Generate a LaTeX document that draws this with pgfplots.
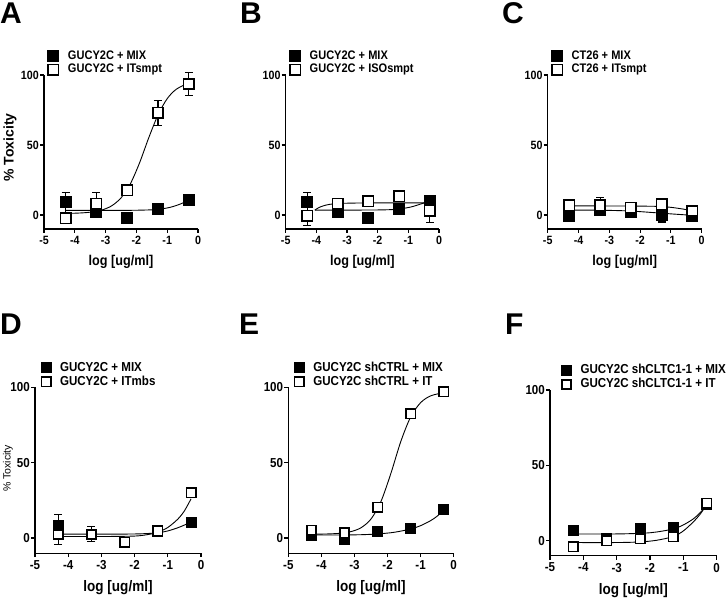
\documentclass[border=0pt]{standalone}
\usepackage{fontspec}
\setmainfont{Liberation Sans}
\newfontfamily\cond{Liberation Sans}[FakeStretch=0.89]
\usepackage{pgfplots}
\pgfplotsset{compat=1.18}
\usepackage{pgfplotstable}

\pgfplotsset{
  gpbase/.style={
    scale only axis, clip=false,
    xmin=-5, xmax=0, ymin=-10, ymax=100,
    axis x line*=bottom, axis y line*=left,
    axis line style={line width=1.1pt},
    xtick={-5,-4,-3,-2,-1,0}, xticklabels={-5,-4,-3,-2,-1,0},
    ytick={0,50,100}, yticklabels={0,50,100},
    tick align=outside, major tick length=4pt,
    major tick style={line width=1.1pt, black},
    xlabel={log [ug/ml]},
    xticklabel style={inner sep=1pt, yshift=-2pt},
    yticklabel style={inner sep=1pt},
    legend cell align=left,
    legend image code/.code={\draw[#1] plot coordinates {(0pt,0pt)};},
  },
  toprow/.style={gpbase, width=154pt, height=154pt,
    tick label style={font=\cond\bfseries\fontsize{12}{12}\selectfont},
    xlabel style={font=\cond\bfseries\fontsize{14.2}{14}\selectfont, at={(axis description cs:0.5,0)}, anchor=center, yshift=-33pt},
    legend style={draw=none, fill=none, at={(axis description cs:0,1)}, anchor=south west,
      xshift=4pt, inner sep=0pt, outer sep=0pt, row sep=2.5pt,
      font=\cond\bfseries\fontsize{12.4}{12}\selectfont,
      nodes={inner sep=0pt, text height=8.5pt, text depth=2pt},
      /tikz/every odd column/.style={column sep=9pt}},
  },
  botrow/.style={gpbase, width=166pt, height=165.8pt,
    tick label style={font=\cond\bfseries\fontsize{13}{13}\selectfont},
    xlabel style={font=\cond\bfseries\fontsize{15.2}{15}\selectfont, at={(axis description cs:0.5,0)}, anchor=center, yshift=-35pt},
    legend style={draw=none, fill=none, at={(axis description cs:0,1)}, anchor=south west,
      xshift=6pt, inner sep=0pt, outer sep=0pt, row sep=3pt,
      font=\cond\bfseries\fontsize{13}{13}\selectfont,
      nodes={inner sep=0pt, text height=9pt, text depth=2pt},
      /tikz/every odd column/.style={column sep=9pt}},
  },
  fsqT/.style={only marks, mark=square*, mark size=5.5pt,
    mark options={fill=black, draw=black, line width=1pt, solid},
    error bars/.cd, y dir=both, y explicit,
    error bar style={line width=1.1pt, black},
    error mark options={rotate=90, mark size=4pt, line width=1.1pt, black}},
  osqT/.style={only marks, mark=square*, mark size=5.2pt,
    mark options={fill=white, draw=black, line width=1.6pt, solid},
    error bars/.cd, y dir=both, y explicit,
    error bar style={line width=1.1pt, black},
    error mark options={rotate=90, mark size=4pt, line width=1.1pt, black}},
  fsqB/.style={only marks, mark=square*, mark size=5pt,
    mark options={fill=black, draw=black, line width=1pt, solid},
    error bars/.cd, y dir=both, y explicit,
    error bar style={line width=1.1pt, black},
    error mark options={rotate=90, mark size=4pt, line width=1.1pt, black}},
  osqB/.style={only marks, mark=square*, mark size=4.7pt,
    mark options={fill=white, draw=black, line width=1.6pt, solid},
    error bars/.cd, y dir=both, y explicit,
    error bar style={line width=1.1pt, black},
    error mark options={rotate=90, mark size=4pt, line width=1.1pt, black}},
  fit/.style={no marks, smooth, black, line width=0.9pt, forget plot},
}

% ---------- data: x y err ----------
\pgfplotstableread{
x y e
-4.3 9.0 7.0
-3.3 2.0 0
-2.3 -2.0 0
-1.3 4.0 0
-0.3 10.5 0
}\Amix
\pgfplotstableread{
x y e
-4.3 -2.4 0
-3.3 8.0 8.0
-2.3 17.6 0
-1.3 73.0 9.0
-0.3 93.6 8.5
}\Ait
\pgfplotstableread{
x y e
-4.3 9.3 7.0
-3.3 2.1 0
-2.3 -2.4 0
-1.3 4.3 0
-0.3 10.2 0
}\Bmix
\pgfplotstableread{
x y e
-4.3 -0.5 7.0
-3.3 8.1 0
-2.3 9.8 0
-1.3 13.3 0
-0.3 3.1 8.2
}\Biso
\pgfplotstableread{
x y e
-4.3 -1.0 0
-3.3 3.3 0
-2.3 2.0 0
-1.3 0.2 5.2
-0.3 -1.0 0
}\Cmix
\pgfplotstableread{
x y e
-4.3 6.9 0
-3.3 6.9 5.8
-2.3 5.2 0
-1.3 7.6 0
-0.3 2.9 0
}\Cit
\pgfplotstableread{
x y e
-4.3 8.2 7.7
-3.3 2.4 0
-2.3 -2.9 0
-1.3 4.2 0
-0.3 10.6 0
}\Dmix
\pgfplotstableread{
x y e
-4.3 2.4 6.6
-3.3 2.4 5.0
-2.3 -2.9 0
-1.3 4.9 0
-0.3 30.1 0
}\Dit
\pgfplotstableread{
x y e
-4.3 1.8 0
-3.3 -0.9 0
-2.3 4.4 0
-1.3 6.0 0
-0.3 19.0 0
}\Emix
\pgfplotstableread{
x y e
-4.3 5.3 0
-3.3 3.5 0
-2.3 20.4 0
-1.3 82.5 0
-0.3 97.1 0
}\Eit
\pgfplotstableread{
x y e
-4.3 7.1 0
-3.3 1.5 0
-2.3 8.2 0
-1.3 8.6 0
-0.3 24.3 3.5
}\Fmix
\pgfplotstableread{
x y e
-4.3 -4.0 0
-3.3 0.0 0
-2.3 1.3 0
-1.3 2.7 0
-0.3 24.8 0
}\Fit

\begin{document}
\begin{tikzpicture}
\useasboundingbox (0,0) rectangle (726pt,599pt);

\tikzset{plab/.style={anchor=base west, inner sep=0pt, font=\bfseries\fontsize{30}{30}\selectfont}}
\node[plab] at (0pt,575pt) {A};
\node[plab] at (240pt,575pt) {B};
\node[plab] at (502pt,575pt) {C};
\node[plab] at (0pt,264pt) {D};
\node[plab] at (239pt,264pt) {E};
\node[plab] at (505pt,264pt) {F};

% ---------------- A ----------------
\begin{axis}[toprow, at={(44pt,370pt)}, anchor=south west,
  ylabel={\% Toxicity},
  ylabel style={font=\bfseries\fontsize{14}{14}\selectfont, at={(axis description cs:-0.221,0.53)}, anchor=center}]
\addplot[fit] coordinates {(-4.3,3.3) (-3.5,3.3) (-2.5,3.3) (-2,3.4) (-1.5,3.7) (-1.2,4.3) (-0.9,5.5) (-0.6,7.6) (-0.3,10.5)};
\addplot[fit] coordinates {(-4.3,1.13) (-4.0,1.28) (-3.7,1.6) (-3.4,2.28) (-3.1,3.69) (-2.8,6.58) (-2.5,12.2) (-2.2,22.1) (-1.9,37.1) (-1.6,55.1) (-1.3,71.4) (-1.0,83.1) (-0.7,89.9) (-0.3,94.3)};
\addplot[fsqT] table[x=x, y=y, y error=e] {\Amix};
\addlegendentry{GUCY2C + MIX}
\addplot[osqT] table[x=x, y=y, y error=e] {\Ait};
\addlegendentry{GUCY2C + ITsmpt}
\end{axis}

% ---------------- B ----------------
\begin{axis}[toprow, at={(285.7pt,370pt)}, anchor=south west, width=153.3pt]
\addplot[fit] coordinates {(-4.05,3.5) (-3,3.5) (-2,3.6) (-1.5,3.9) (-1.2,4.6) (-0.9,5.8) (-0.6,7.8) (-0.3,10)};
\addplot[fit] coordinates {(-4.05,3.5) (-3.9,5.5) (-3.7,7) (-3.5,7.8) (-3.2,8.3) (-2.5,8.6) (-1.5,8.7) (-0.3,8.7)};
\addplot[fsqT] table[x=x, y=y, y error=e] {\Bmix};
\addlegendentry{GUCY2C + MIX}
\addplot[osqT] table[x=x, y=y, y error=e] {\Biso};
\addlegendentry{GUCY2C + ISOsmpt}
\end{axis}

% ---------------- C ----------------
\begin{axis}[toprow, at={(547.7pt,370pt)}, anchor=south west]
\addplot[fit] coordinates {(-4.3,3.5) (-3.3,3.4) (-2.5,3.0) (-2,2.4) (-1.5,1.6) (-1,0.8) (-0.6,0.2) (-0.3,-0.2)};
\addplot[fit] coordinates {(-4.3,6.5) (-2.5,6.4) (-1.5,6.2) (-1.2,5.9) (-0.9,5.2) (-0.6,4.2) (-0.3,3.0)};
\addplot[fsqT] table[x=x, y=y, y error=e] {\Cmix};
\addlegendentry{CT26 + MIX}
\addplot[osqT] table[x=x, y=y, y error=e] {\Cit};
\addlegendentry{CT26 + ITsmpt}
\end{axis}

% ---------------- D ----------------
\begin{axis}[botrow, at={(35pt,45.9pt)}, anchor=south west,
  ylabel={\% Toxicity},
  ylabel style={font=\fontsize{10.5}{10.5}\selectfont, at={(axis description cs:-0.163,0.51)}, anchor=center}]
\addplot[fit] coordinates {(-4.3,2.6) (-2.5,2.6) (-1.8,2.8) (-1.3,3.5) (-1,4.7) (-0.7,6.8) (-0.5,8.6) (-0.3,10.6)};
\addplot[fit] coordinates {(-4.3,1) (-3,1) (-2,1.3) (-1.6,2.3) (-1.3,3.8) (-1,7) (-0.7,12.5) (-0.5,18) (-0.3,26)};
\addplot[fsqB] table[x=x, y=y, y error=e] {\Dmix};
\addlegendentry{GUCY2C + MIX}
\addplot[osqB] table[x=x, y=y, y error=e] {\Dit};
\addlegendentry{GUCY2C + ITmbs}
\end{axis}

% ---------------- E ----------------
\begin{axis}[botrow, at={(288.3pt,45.9pt)}, anchor=south west, width=165.4pt]
\addplot[fit] coordinates {(-4.3,2) (-3.5,2) (-2.8,2.2) (-2.3,2.7) (-1.8,3.8) (-1.3,6) (-1,8.2) (-0.7,11.5) (-0.5,14.5) (-0.3,18.5)};
\addplot[fit] coordinates {(-4.3,2.55) (-4.0,2.62) (-3.7,2.79) (-3.4,3.23) (-3.1,4.29) (-2.8,6.84) (-2.5,12.6) (-2.2,24.2) (-1.9,42.8) (-1.6,64.0) (-1.3,80.4) (-1.0,89.8) (-0.7,94.3) (-0.3,96.5)};
\addplot[fsqB] table[x=x, y=y, y error=e] {\Emix};
\addlegendentry{GUCY2C shCTRL + MIX}
\addplot[osqB] table[x=x, y=y, y error=e] {\Eit};
\addlegendentry{GUCY2C shCTRL + IT}
\end{axis}

% ---------------- F ----------------
\begin{axis}[botrow, at={(550pt,43.2pt)}, anchor=south west, width=166.7pt, legend style={xshift=5.5pt}]
\addplot[fit] coordinates {(-4.3,4.5) (-3,4.5) (-2.2,5) (-1.8,5.8) (-1.3,7.8) (-1,10.5) (-0.7,14.5) (-0.5,18.5) (-0.3,23.5)};
\addplot[fit] coordinates {(-4.3,-1.2) (-3,-1.2) (-2.3,-0.8) (-1.8,0.3) (-1.3,2.8) (-1,6.5) (-0.7,12.5) (-0.5,17.5) (-0.3,24)};
\addplot[fsqB] table[x=x, y=y, y error=e] {\Fmix};
\addlegendentry{GUCY2C shCLTC1-1 + MIX}
\addplot[osqB] table[x=x, y=y, y error=e] {\Fit};
\addlegendentry{GUCY2C shCLTC1-1 + IT}
\end{axis}
\end{tikzpicture}
\end{document}
